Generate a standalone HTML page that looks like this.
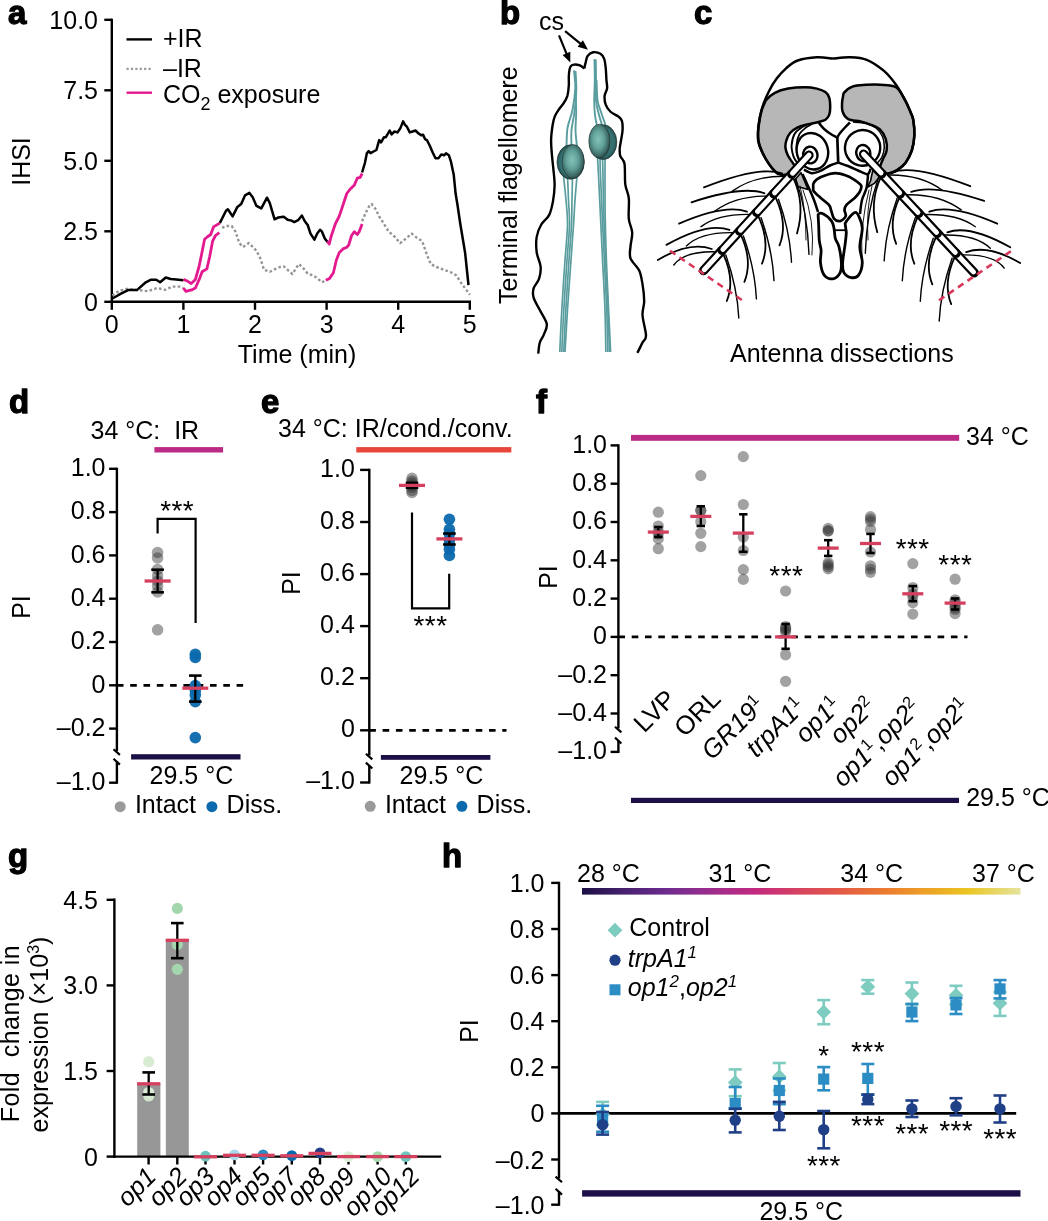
<!DOCTYPE html>
<html><head><meta charset="utf-8"><style>
html,body{margin:0;padding:0;background:#fff;}
svg{display:block;will-change:transform;}
text{font-family:"Liberation Sans",sans-serif;fill:#000;}
</style></head><body>
<svg width="1048" height="1221" viewBox="0 0 1048 1221">
<rect width="1048" height="1221" fill="#fff"/>
<text x="8" y="24" font-size="33" font-weight="bold" stroke="#000" stroke-width="1.3" stroke-linejoin="round">a</text>
<line x1="111.8" y1="18.8" x2="111.8" y2="303.0" stroke="#000" stroke-width="2.4" />
<line x1="110.6" y1="301.8" x2="471.0" y2="301.8" stroke="#000" stroke-width="2.4" />
<line x1="104.3" y1="301.8" x2="111.8" y2="301.8" stroke="#000" stroke-width="2.4" />
<text x="98.0" y="310.8" font-size="25" text-anchor="end" >0</text>
<line x1="104.3" y1="231.3" x2="111.8" y2="231.3" stroke="#000" stroke-width="2.4" />
<text x="98.0" y="240.3" font-size="25" text-anchor="end" >2.5</text>
<line x1="104.3" y1="160.8" x2="111.8" y2="160.8" stroke="#000" stroke-width="2.4" />
<text x="98.0" y="169.8" font-size="25" text-anchor="end" >5.0</text>
<line x1="104.3" y1="90.3" x2="111.8" y2="90.3" stroke="#000" stroke-width="2.4" />
<text x="98.0" y="99.3" font-size="25" text-anchor="end" >7.5</text>
<line x1="104.3" y1="19.8" x2="111.8" y2="19.8" stroke="#000" stroke-width="2.4" />
<text x="98.0" y="28.8" font-size="25" text-anchor="end" >10.0</text>
<line x1="111.8" y1="301.8" x2="111.8" y2="309.8" stroke="#000" stroke-width="2.4" />
<text x="111.8" y="333.0" font-size="25" text-anchor="middle" >0</text>
<line x1="183.4" y1="301.8" x2="183.4" y2="309.8" stroke="#000" stroke-width="2.4" />
<text x="183.4" y="333.0" font-size="25" text-anchor="middle" >1</text>
<line x1="255.0" y1="301.8" x2="255.0" y2="309.8" stroke="#000" stroke-width="2.4" />
<text x="255.0" y="333.0" font-size="25" text-anchor="middle" >2</text>
<line x1="326.6" y1="301.8" x2="326.6" y2="309.8" stroke="#000" stroke-width="2.4" />
<text x="326.6" y="333.0" font-size="25" text-anchor="middle" >3</text>
<line x1="398.2" y1="301.8" x2="398.2" y2="309.8" stroke="#000" stroke-width="2.4" />
<text x="398.2" y="333.0" font-size="25" text-anchor="middle" >4</text>
<line x1="469.8" y1="301.8" x2="469.8" y2="309.8" stroke="#000" stroke-width="2.4" />
<text x="469.8" y="333.0" font-size="25" text-anchor="middle" >5</text>
<text x="297.0" y="363.0" font-size="25" text-anchor="middle" >Time (min)</text>
<text transform="translate(30,161.5) rotate(-90)" font-size="25" text-anchor="middle">IHSI</text>
<line x1="126.5" y1="39.4" x2="152.0" y2="39.4" stroke="#000" stroke-width="2.4" />
<text x="163.0" y="46.5" font-size="25" text-anchor="start" >+IR</text>
<line x1="126.5" y1="68.9" x2="152.0" y2="68.9" stroke="#999" stroke-width="2.4" stroke-dasharray="2.2 2.2"/>
<text x="163.0" y="76.5" font-size="25" text-anchor="start" >–IR</text>
<line x1="126.5" y1="92.7" x2="152.0" y2="92.7" stroke="#e2198f" stroke-width="2.4" />
<text x="163" y="102.6" font-size="25">CO<tspan font-size="18" dy="7.5">2</tspan><tspan dy="-7.5"> exposure</tspan></text>
<path d="M112.4,295.6 L119.1,290.8 L126.7,288.9 L136.3,289.9 L147.7,291.2 L157.3,288.0 L164.9,289.9 L172.5,286.6 L180.2,286.6 L183.4,288.0" stroke="#949494" stroke-width="2.4" fill="none" stroke-dasharray="2.6 2.3" stroke-linejoin="round"/>
<path d="M222.1,227.9 L226.0,226.0 L231.7,226.0 L235.5,231.7 L239.3,243.1 L243.1,246.9 L248.9,243.1 L256.5,250.8 L260.3,258.4 L264.1,269.8 L269.8,271.8 L275.6,268.9 L275.6,268.9 L280.0,267.0 L283.8,266.4 L287.6,269.8 L292.4,274.0 L296.2,267.9 L299.1,264.1 L303.9,268.9 L307.7,273.7 L312.4,275.2 L316.3,277.5 L322.0,282.3 L325.8,280.3" stroke="#949494" stroke-width="2.4" fill="none" stroke-dasharray="2.6 2.3" stroke-linejoin="round"/>
<path d="M362.1,221.2 L365.9,212.6 L369.7,205.0 L371.6,204.0 L375.4,208.8 L379.2,216.4 L384.0,224.0 L388.8,231.7 L394.5,236.5 L400.2,243.1 L406.0,238.4 L411.7,233.6 L416.5,237.4 L422.2,241.2 L426.9,254.6 L430.8,264.1 L436.5,267.0 L444.1,269.8 L451.8,272.7 L456.5,275.6 L461.3,283.2 L469.9,294.7" stroke="#949494" stroke-width="2.4" fill="none" stroke-dasharray="2.6 2.3" stroke-linejoin="round"/>
<path d="M112.4,298.5 L121.0,293.7 L128.6,289.9 L137.2,289.9 L145.8,282.3 L150.6,279.8 L156.3,279.8 L160.1,282.3 L165.8,277.5 L170.6,279.0 L176.3,279.4 L183.4,280.3" stroke="#000" stroke-width="2.5" fill="none" stroke-linejoin="round"/>
<path d="M219.8,223.1 L226.0,210.7 L227.9,209.2 L232.6,216.4 L237.4,206.9 L241.2,204.0 L245.0,195.4 L249.4,192.9 L252.7,197.3 L256.5,205.9 L261.3,208.4 L267.0,197.7 L269.8,203.1 L274.6,219.3 L278.4,217.4 L283.2,216.8 L283.8,216.8 L287.6,219.8 L291.5,220.6 L294.3,222.1 L298.1,220.2 L301.9,215.5 L304.8,221.2 L307.7,225.0 L310.5,233.6 L314.4,239.7 L317.2,233.6 L320.1,229.8 L322.0,231.7 L324.8,238.4 L327.7,242.2" stroke="#000" stroke-width="2.5" fill="none" stroke-linejoin="round"/>
<path d="M362.1,172.5 L364.9,163.0 L366.8,153.4 L368.7,151.1 L370.6,153.1 L373.5,151.5 L376.4,150.0 L379.2,140.1 L381.1,142.4 L384.0,137.2 L385.9,137.2 L389.7,130.5 L391.6,134.4 L394.5,131.5 L397.4,132.4 L400.2,128.6 L403.1,121.4 L405.0,124.8 L406.9,126.7 L409.8,132.4 L412.6,131.5 L415.5,130.5 L418.4,133.4 L421.2,135.3 L423.1,134.7 L425.0,139.1 L426.9,140.1 L429.8,145.8 L432.7,152.5 L435.5,158.2 L438.4,158.2 L441.3,154.4 L444.1,155.3 L446.0,153.4 L448.9,155.3 L450.8,161.1 L453.7,174.4 L455.6,193.5 L457.5,205.0 L460.3,224.0 L463.2,241.2 L465.1,252.7 L468.5,285.1" stroke="#000" stroke-width="2.5" fill="none" stroke-linejoin="round"/>
<path d="M183.4,279.4 L187.8,281.3 L191.2,283.6 L195.4,279.4 L199.2,266.0 L204.6,239.3 L207.8,236.5 L210.7,234.5 L213.5,226.9 L219.8,223.1" stroke="#e2198f" stroke-width="2.8" fill="none" stroke-linejoin="round"/>
<path d="M183.4,288.0 L185.9,291.4 L191.6,289.9 L195.4,288.0 L199.2,279.4 L202.1,271.8 L206.9,268.9 L209.7,256.5 L212.6,241.2 L215.5,235.5 L219.3,232.6" stroke="#e2198f" stroke-width="2.8" fill="none" stroke-linejoin="round"/>
<path d="M327.3,241.2 L329.2,244.1 L331.1,236.5 L335.3,224.0 L339.2,216.4 L343.0,205.0 L346.8,193.5 L350.6,188.7 L354.4,184.9 L357.3,178.2 L360.2,177.3 L362.1,173.5" stroke="#e2198f" stroke-width="2.8" fill="none" stroke-linejoin="round"/>
<path d="M325.8,280.3 L329.6,278.4 L333.4,272.7 L336.3,260.3 L339.2,252.7 L343.0,248.9 L346.8,247.3 L348.7,245.0 L351.6,235.5 L354.4,231.7 L357.3,234.5 L359.2,231.7 L362.1,224.0" stroke="#e2198f" stroke-width="2.8" fill="none" stroke-linejoin="round"/>
<text x="500" y="24" font-size="33" font-weight="bold" stroke="#000" stroke-width="1.3" stroke-linejoin="round">b</text>
<text x="539.0" y="29.5" font-size="25" text-anchor="start" >cs</text>
<line x1="559.0" y1="35.4" x2="566.8" y2="54.3" stroke="#000" stroke-width="2.2" />
<path d="M570.3,62.6 L562.6,55.0 L570.3,51.8Z" fill="#000"/>
<line x1="565.1" y1="31.2" x2="581.0" y2="44.1" stroke="#000" stroke-width="2.2" />
<path d="M588.0,49.8 L577.6,46.8 L582.9,40.2Z" fill="#000"/>
<text transform="translate(517.2,304) rotate(-90)" font-size="25">Terminal flagellomere</text>
<path d="M538.2,353.6 C538.5,351.8 538.9,345.8 539.8,342.7 C540.7,339.6 542.5,338.0 543.7,334.9 C544.9,331.8 547.4,328.1 546.8,324.0 C546.1,319.9 542.0,314.4 539.8,310.0 C537.6,305.6 534.6,301.2 533.6,297.6 C532.6,294.0 532.7,291.4 533.6,288.3 C534.5,285.2 537.8,282.5 539.0,278.9 C540.2,275.3 541.0,270.9 540.6,266.5 C540.2,262.1 537.4,257.4 536.7,252.5 C536.1,247.6 535.9,241.6 536.7,236.9 C537.5,232.2 539.2,228.1 541.3,224.5 C543.4,220.9 547.1,219.0 549.1,215.1 C551.1,211.2 552.1,206.0 553.0,201.1 C553.9,196.2 554.5,190.9 554.6,185.6 C554.7,180.3 553.9,174.6 553.4,169.4 C552.9,164.2 552.3,159.6 551.9,154.7 C551.5,149.8 551.0,144.9 551.1,140.0 C551.2,135.1 552.0,129.1 552.6,125.2 C553.2,121.3 553.7,119.1 554.8,116.4 C555.9,113.7 557.7,111.2 559.2,109.0 C560.7,106.8 562.3,105.3 563.7,103.1 C565.1,100.9 566.5,98.7 567.4,95.8 C568.2,92.9 568.6,88.7 568.8,85.5 C569.0,82.3 568.7,79.3 568.8,76.6 C568.9,73.9 569.2,71.0 569.6,69.2 C570.0,67.4 570.3,66.8 571.0,66.0 C571.7,65.2 572.5,64.7 574.0,64.6 C575.5,64.5 578.2,64.8 579.9,65.4 C581.6,66.1 583.6,68.0 584.3,68.5" stroke="#000" stroke-width="2.4" fill="none" stroke-linejoin="round"/>
<path d="M584.3,68.5 C584.5,67.4 585.2,64.0 585.8,61.9 C586.3,59.8 586.4,57.6 587.6,56.0 C588.8,54.4 591.0,52.7 593.1,52.3 C595.2,51.9 598.6,52.7 600.5,53.8 C602.4,54.9 603.3,56.6 604.2,58.9 C605.1,61.2 605.3,64.3 605.7,67.8 C606.1,71.2 606.2,76.2 606.4,79.6 C606.6,83.0 607.4,85.7 607.1,88.4 C606.8,91.1 604.8,93.1 604.6,95.8 C604.4,98.5 604.7,101.9 605.7,104.6 C606.7,107.3 608.7,110.0 610.8,112.0 C612.9,114.0 616.4,114.9 618.2,116.4 C620.1,117.9 621.2,118.6 621.9,120.8 C622.6,123.0 622.7,126.5 622.6,129.7 C622.5,132.9 621.6,136.8 621.1,140.0 C620.6,143.2 619.8,146.1 619.7,148.8 C619.6,151.5 619.5,153.7 620.3,156.2 C621.1,158.7 623.7,159.1 624.5,163.8 C625.3,168.5 624.6,178.7 625.3,184.4 C626.0,190.1 628.2,192.4 628.8,198.1 C629.4,203.8 628.2,213.1 628.8,218.8 C629.4,224.5 631.9,227.9 632.2,232.5 C632.5,237.1 630.8,242.0 630.5,246.3 C630.2,250.6 629.1,254.3 630.5,258.3 C631.9,262.3 637.1,266.0 639.1,270.3 C641.1,274.6 641.6,278.9 642.5,284.1 C643.4,289.3 644.2,296.2 644.2,301.3 C644.2,306.4 642.2,309.3 642.5,315.0 C642.8,320.7 646.0,331.1 646.0,335.7 C646.0,340.3 643.9,339.6 642.5,342.5 C641.1,345.4 638.2,351.2 637.4,352.9" stroke="#000" stroke-width="2.4" fill="none" stroke-linejoin="round"/>
<path d="M574.0,70.4 C574.2,73.3 575.5,81.4 575.3,88.0 C575.0,94.6 573.8,103.3 572.5,110.0 C571.2,116.7 568.5,121.8 567.5,128.0 C566.5,134.2 566.7,143.8 566.5,147.0" stroke="#5a9d9f" stroke-width="1.9" fill="none" stroke-linecap="butt"/>
<path d="M575.5,71.0 C575.6,74.2 576.5,83.2 576.3,90.0 C576.1,96.8 575.3,105.3 574.5,112.0 C573.7,118.7 572.0,124.2 571.5,130.0 C571.0,135.8 571.5,144.2 571.5,147.0" stroke="#5a9d9f" stroke-width="1.9" fill="none" stroke-linecap="butt"/>
<path d="M575.6,90.0 C575.7,93.7 576.2,105.3 576.2,112.0 C576.2,118.7 575.4,124.2 575.5,130.0 C575.6,135.8 576.8,144.2 577.0,147.0" stroke="#5a9d9f" stroke-width="1.9" fill="none" stroke-linecap="butt"/>
<path d="M563.5,176.0 C563.9,180.0 565.3,191.8 566.0,200.0 C566.7,208.2 567.7,215.0 567.5,225.0 C567.3,235.0 566.0,245.8 565.0,260.0 C564.0,274.2 562.7,294.7 561.8,310.0 C560.9,325.3 560.1,345.0 559.8,352.0" stroke="#5a9d9f" stroke-width="1.7" fill="none" stroke-linecap="butt"/>
<path d="M567.5,176.0 C567.7,180.0 568.2,191.8 568.5,200.0 C568.8,208.2 569.8,215.0 569.5,225.0 C569.2,235.0 568.0,245.8 567.0,260.0 C566.0,274.2 564.7,294.7 563.8,310.0 C562.9,325.3 562.1,345.0 561.8,352.0" stroke="#5a9d9f" stroke-width="1.7" fill="none" stroke-linecap="butt"/>
<path d="M572.5,176.0 C572.4,180.0 572.2,191.8 572.0,200.0 C571.8,208.2 572.0,215.0 571.5,225.0 C571.0,235.0 570.0,245.8 569.0,260.0 C568.0,274.2 566.7,294.7 565.8,310.0 C564.9,325.3 564.1,345.0 563.8,352.0" stroke="#5a9d9f" stroke-width="1.7" fill="none" stroke-linecap="butt"/>
<path d="M577.0,176.0 C576.7,180.0 575.6,191.8 575.0,200.0 C574.4,208.2 574.2,215.0 573.5,225.0 C572.8,235.0 572.0,245.8 571.0,260.0 C570.0,274.2 568.5,294.7 567.5,310.0 C566.5,325.3 565.4,345.0 565.0,352.0" stroke="#5a9d9f" stroke-width="1.7" fill="none" stroke-linecap="butt"/>
<path d="M594.5,59.0 C594.5,62.5 594.8,73.2 594.8,80.0 C594.8,86.8 594.2,94.2 594.2,100.0 C594.2,105.8 594.5,110.7 595.0,115.0 C595.5,119.3 596.7,124.2 597.0,126.0" stroke="#5a9d9f" stroke-width="1.9" fill="none" stroke-linecap="butt"/>
<path d="M595.8,59.5 C595.8,62.9 596.0,73.2 596.0,80.0 C596.0,86.8 595.6,94.5 596.0,100.0 C596.4,105.5 597.5,108.8 598.5,113.0 C599.5,117.2 601.4,123.0 602.0,125.0" stroke="#5a9d9f" stroke-width="1.9" fill="none" stroke-linecap="butt"/>
<path d="M596.5,80.0 C596.7,83.3 596.8,94.7 597.5,100.0 C598.2,105.3 599.7,107.8 601.0,112.0 C602.3,116.2 604.8,122.8 605.5,125.0" stroke="#5a9d9f" stroke-width="1.9" fill="none" stroke-linecap="butt"/>
<path d="M597.5,158.0 C597.7,160.8 598.0,165.2 598.5,175.0 C599.0,184.8 599.8,202.3 600.5,217.0 C601.2,231.7 602.0,247.5 602.7,263.0 C603.5,278.5 604.5,295.2 605.0,310.0 C605.5,324.8 605.7,345.0 605.8,352.0" stroke="#5a9d9f" stroke-width="1.7" fill="none" stroke-linecap="butt"/>
<path d="M600.0,158.0 C600.1,160.8 600.1,165.2 600.5,175.0 C600.9,184.8 601.6,202.3 602.3,217.0 C603.0,231.7 603.8,247.5 604.5,263.0 C605.2,278.5 606.2,295.2 606.8,310.0 C607.3,324.8 607.6,345.0 607.8,352.0" stroke="#5a9d9f" stroke-width="1.7" fill="none" stroke-linecap="butt"/>
<path d="M602.5,158.0 C602.6,160.8 602.8,165.2 603.0,175.0 C603.2,184.8 603.3,202.3 603.8,217.0 C604.3,231.7 605.1,247.5 605.8,263.0 C606.5,278.5 607.4,295.2 608.0,310.0 C608.6,324.8 609.2,345.0 609.5,352.0" stroke="#5a9d9f" stroke-width="1.7" fill="none" stroke-linecap="butt"/>
<path d="M605.0,158.0 C605.0,160.8 605.0,165.2 605.0,175.0 C605.0,184.8 605.0,202.3 605.2,217.0 C605.5,231.7 605.9,247.5 606.5,263.0 C607.1,278.5 607.9,295.2 608.6,310.0 C609.3,324.8 610.3,345.0 610.6,352.0" stroke="#5a9d9f" stroke-width="1.7" fill="none" stroke-linecap="butt"/>
<defs>
<radialGradient id="sph" cx="0.45" cy="0.45" r="0.6">
<stop offset="0" stop-color="#82c2b8"/><stop offset="0.45" stop-color="#62a29a"/><stop offset="0.8" stop-color="#3c6864"/><stop offset="1" stop-color="#1f302e"/></radialGradient>
<radialGradient id="sphb" cx="0.5" cy="0.5" r="0.55">
<stop offset="0" stop-color="#3f8282"/><stop offset="0.75" stop-color="#336c6c"/><stop offset="1" stop-color="#1c3434"/></radialGradient>
</defs>
<ellipse cx="570.6" cy="162" rx="13.6" ry="17.2" fill="url(#sphb)" stroke="#1f3333" stroke-width="0.7"/>
<ellipse cx="573.2" cy="161.6" rx="11" ry="17" fill="url(#sph)" stroke="#243836" stroke-width="0.6"/>
<ellipse cx="603.2" cy="142.2" rx="13.6" ry="17.4" fill="url(#sphb)" stroke="#1f3333" stroke-width="0.7"/>
<ellipse cx="599.4" cy="141.2" rx="10.6" ry="17" fill="url(#sph)" stroke="#243836" stroke-width="0.6"/>
<text x="694" y="24" font-size="33" font-weight="bold" stroke="#000" stroke-width="1.3" stroke-linejoin="round">c</text>
<text x="730.0" y="362.0" font-size="25" text-anchor="start" >Antenna dissections</text>
<path d="M765.7,100.6 C767.9,97.8 771.0,94.9 774.8,92.9 C778.5,90.9 783.1,89.5 788.2,88.6 C793.3,87.6 800.5,87.2 805.3,87.2 C810.1,87.2 813.4,87.8 816.8,88.6 C820.1,89.4 823.3,90.5 825.4,92.0 C827.5,93.5 828.4,95.2 829.2,97.7 C830.0,100.2 830.2,104.4 830.2,107.3 C830.2,110.2 830.0,112.8 829.2,114.9 C828.4,117.0 827.1,118.5 825.4,119.7 C823.6,120.9 821.7,121.2 818.7,122.0 C815.7,122.8 810.8,123.5 807.3,124.4 C803.8,125.3 800.6,125.9 797.7,127.3 C794.8,128.7 792.0,130.8 790.1,133.0 C788.2,135.2 787.1,138.1 786.3,140.6 C785.5,143.1 785.2,145.6 785.5,148.0 C785.8,150.4 786.5,152.6 787.8,155.2 C789.1,157.8 791.8,161.5 793.2,163.6 C794.6,165.7 796.9,166.3 796.0,168.0 C795.1,169.7 790.6,172.9 788.0,174.0 C785.4,175.1 782.4,175.1 780.2,174.6 C778.0,174.1 776.7,173.0 774.8,171.2 C772.9,169.4 770.7,166.6 768.7,163.6 C766.7,160.6 764.3,156.6 762.6,152.9 C760.9,149.2 759.3,145.9 758.6,141.5 C757.9,137.1 757.9,131.6 758.4,126.3 C758.9,121.0 760.3,114.3 761.5,110.0Z" stroke="#000" stroke-width="2.5" fill="#b7b7b7" stroke-linejoin="round"/>
<path d="M843.6,93.2 C845.4,90.8 849.3,87.8 853.0,86.4 C856.7,85.0 861.4,85.1 866.0,84.8 C870.6,84.5 875.5,84.3 880.5,84.7 C885.5,85.1 891.9,84.7 896.0,87.2 C900.1,89.8 902.6,95.9 905.0,100.0 C907.4,104.1 909.1,108.7 910.5,112.0 C911.9,115.3 912.6,116.1 913.3,120.0 C913.9,123.9 914.6,130.2 914.4,135.3 C914.1,140.4 913.3,145.9 911.8,150.5 C910.3,155.1 907.9,159.5 905.6,162.7 C903.3,165.9 900.3,168.0 898.0,169.6 C895.7,171.2 894.3,171.9 892.0,172.5 C889.7,173.1 886.0,173.8 884.0,173.0 C882.0,172.2 880.2,170.2 880.0,168.0 C879.8,165.8 881.6,162.6 882.7,159.7 C883.8,156.8 886.1,153.9 886.6,150.5 C887.1,147.1 886.9,142.7 885.8,139.1 C884.6,135.5 882.2,131.6 879.7,129.2 C877.2,126.8 873.7,125.9 870.5,124.6 C867.3,123.3 864.2,122.3 860.5,121.4 C856.8,120.5 851.3,120.8 848.3,119.1 C845.3,117.4 843.6,114.5 842.6,111.5 C841.6,108.5 842.0,104.0 842.2,101.0Z" stroke="#000" stroke-width="2.5" fill="#b7b7b7" stroke-linejoin="round"/>
<path d="M833.0,58.6 C830.3,58.4 822.7,56.9 816.8,57.2 C810.9,57.5 802.8,58.7 797.7,60.5 C792.6,62.3 789.8,65.1 786.3,68.1 C782.8,71.1 779.6,74.8 776.7,78.6 C773.8,82.4 771.5,86.2 769.1,91.0 C766.7,95.8 764.1,101.4 762.4,107.3 C760.6,113.2 759.3,120.6 758.6,126.3 C757.9,132.0 757.6,137.1 758.3,141.5 C759.0,145.9 760.9,149.2 762.6,152.9 C764.3,156.6 766.7,160.6 768.7,163.6 C770.7,166.6 773.1,169.4 774.8,171.2 C776.5,173.0 778.3,173.9 779.0,174.5" stroke="#000" stroke-width="2.5" fill="none" />
<path d="M833.0,58.6 C835.8,58.4 844.0,57.0 849.6,57.2 C855.2,57.4 861.1,57.5 866.8,59.8 C872.5,62.1 879.1,66.8 884.0,70.9 C888.9,75.1 892.5,79.9 896.0,84.7 C899.5,89.5 902.6,95.5 905.0,100.0 C907.4,104.5 909.1,108.7 910.5,112.0 C911.9,115.3 912.6,116.1 913.3,120.0 C913.9,123.9 914.6,130.2 914.4,135.3 C914.1,140.4 913.3,145.9 911.8,150.5 C910.3,155.1 907.9,159.5 905.6,162.7 C903.3,165.9 900.6,167.8 898.0,169.6 C895.4,171.4 891.3,172.8 890.0,173.5" stroke="#000" stroke-width="2.5" fill="none" />
<path d="M807.3,124.4 C806.2,125.0 802.7,126.6 800.6,128.2 C798.5,129.8 796.0,131.2 794.5,134.0 C793.0,136.8 791.9,142.1 791.6,145.3 C791.3,148.5 792.0,150.7 792.5,153.0 C793.0,155.3 793.6,157.0 794.7,159.0 C795.8,161.0 798.3,164.0 799.0,165.0" stroke="#000" stroke-width="1.9" fill="none" />
<path d="M812.0,124.0 C811.0,124.6 808.1,125.8 806.0,127.5 C803.9,129.2 801.1,131.1 799.5,134.0 C797.9,136.9 796.8,141.5 796.5,145.0 C796.2,148.5 796.8,152.2 797.5,155.0 C798.2,157.8 800.0,160.8 800.5,162.0" stroke="#000" stroke-width="1.7" fill="none" />
<path d="M853.0,122.0 C855.2,122.2 862.2,122.5 866.0,123.5 C869.8,124.5 873.2,125.8 876.0,128.0 C878.8,130.2 881.1,133.3 882.5,136.5 C883.9,139.7 884.4,143.6 884.3,147.0 C884.2,150.4 883.3,154.2 882.0,157.0 C880.7,159.8 877.4,162.8 876.5,164.0" stroke="#000" stroke-width="1.5" fill="none" />
<path d="M818.7,122.3 C819.1,122.8 820.0,124.3 821.0,125.5 C822.0,126.7 822.9,127.9 824.4,129.2 C825.9,130.5 828.0,132.2 830.0,133.5 C832.0,134.8 835.4,136.6 836.5,137.2" stroke="#000" stroke-width="2.5" fill="none" />
<path d="M850.0,122.5 C849.2,123.3 846.6,125.8 845.0,127.5 C843.4,129.2 841.8,130.9 840.5,132.5 C839.2,134.1 838.0,136.2 837.5,137.0" stroke="#000" stroke-width="2.5" fill="none" />
<path d="M837.3,137 L838.2,162.6" stroke="#000" stroke-width="2.7" fill="none" />
<path d="M838.2,162.6 C836.8,163.1 833.0,164.1 830.0,165.5 C827.0,166.9 822.9,169.9 819.9,171.2 C816.9,172.5 814.7,173.4 812.0,173.2 C809.3,172.9 805.2,170.3 803.9,169.7" stroke="#000" stroke-width="2.5" fill="none" />
<path d="M838.2,162.6 C839.8,163.2 844.7,164.7 848.0,166.0 C851.3,167.3 854.9,169.1 858.0,170.5 C861.1,171.9 864.8,173.9 866.7,174.2 C868.6,174.5 868.6,173.4 869.2,172.5 C869.8,171.6 870.3,169.5 870.5,168.9" stroke="#000" stroke-width="2.5" fill="none" />
<ellipse cx="812.4" cy="151.2" rx="15.6" ry="18.4" transform="rotate(-15 812.4 151.2)" fill="#fff" stroke="#000" stroke-width="2.4"/>
<ellipse cx="862.6" cy="147.9" rx="17.6" ry="17.9" transform="rotate(15 862.6 147.9)" fill="#fff" stroke="#000" stroke-width="2.4"/>
<ellipse cx="810.3" cy="155" rx="7.2" ry="8.4" transform="rotate(-10 810.3 155)" fill="#fff" stroke="#000" stroke-width="2.4"/>
<ellipse cx="863.3" cy="153.1" rx="7" ry="8.2" transform="rotate(-15 863.3 153.1)" fill="#fff" stroke="#000" stroke-width="2.4"/>
<path d="M813.2,184.2 C813.8,182.3 814.8,180.8 816.8,179.3 C818.8,177.9 821.9,176.5 825.0,175.5 C828.1,174.5 831.8,173.2 835.3,173.2 C838.8,173.2 842.9,174.5 846.0,175.5 C849.1,176.5 851.2,177.7 853.7,179.3 C856.2,181.0 860.1,183.4 861.1,185.4 C862.1,187.4 860.8,189.6 859.8,191.6 C858.8,193.6 857.1,195.4 854.9,197.7 C852.6,199.9 848.0,203.0 846.3,205.1 C844.6,207.2 844.6,208.2 844.5,210.0 C844.4,211.8 846.4,214.2 845.7,216.1 C845.0,217.9 842.2,220.7 840.2,221.1 C838.2,221.5 835.5,220.4 834.0,218.6 C832.5,216.8 831.8,212.2 831.0,210.0 C830.2,207.8 830.9,207.2 829.1,205.1 C827.4,203.0 823.1,200.1 820.5,197.7 C817.9,195.2 814.4,192.7 813.2,190.4Z" stroke="#000" stroke-width="2.7" fill="#fff" />
<path d="M802.5,174.0 C803.4,176.0 806.1,181.7 808.0,186.0 C809.9,190.3 812.3,195.7 814.0,200.0 C815.7,204.3 817.3,210.0 818.0,212.0" stroke="#000" stroke-width="2.5" fill="none" />
<path d="M868.0,175.0 C867.8,177.2 867.5,183.8 866.5,188.0 C865.5,192.2 863.1,195.7 862.0,200.0 C860.9,204.3 860.3,211.7 860.0,214.0" stroke="#000" stroke-width="2.5" fill="none" />
<path d="M818.1,214.9 C818.8,212.8 820.8,212.7 823.0,213.7 C825.2,214.7 829.8,218.6 831.6,221.1 C833.4,223.6 833.4,225.5 834.0,228.4 C834.6,231.3 834.5,235.2 835.3,238.3 C836.1,241.4 838.0,242.8 839.0,246.9 C840.0,251.0 841.2,258.5 841.4,262.8 C841.6,267.1 841.6,269.9 840.2,272.6 C838.8,275.3 835.5,278.4 832.8,278.8 C830.1,279.2 826.2,277.8 824.2,275.1 C822.2,272.4 821.0,266.9 820.5,262.8 C820.0,258.7 821.3,254.2 821.1,250.5 C820.9,246.8 819.7,244.8 819.3,240.7 C818.9,236.6 818.9,230.3 818.7,226.0Z" stroke="#000" stroke-width="2.8" fill="#fff" />
<path d="M845.1,223.5 C846.5,220.2 852.5,213.3 854.9,212.5 C857.3,211.7 858.6,215.9 859.8,218.6 C861.0,221.2 862.3,223.7 862.3,228.4 C862.3,233.1 859.8,241.2 859.8,246.9 C859.8,252.6 862.5,258.1 862.3,262.8 C862.1,267.5 860.5,272.6 858.6,275.1 C856.8,277.6 853.7,278.0 851.2,277.6 C848.8,277.2 845.3,275.1 843.9,272.6 C842.5,270.1 842.4,267.5 842.6,262.8 C842.8,258.1 844.5,249.5 845.1,244.4 C845.7,239.3 846.3,235.6 846.3,232.1Z" stroke="#000" stroke-width="2.8" fill="#fff" />
<line x1="835.0" y1="230.2" x2="845.0" y2="230.2" stroke="#000" stroke-width="1.8" />
<path d="M795.5,179 L801,172.7 L808,189.5 L797.5,186.5 Z" fill="#b7b7b7" stroke="#000" stroke-width="1.6" stroke-linejoin="round"/>
<path d="M872.8,170.4 L879.7,176.5 L874.4,183.4 L867.5,187.2 L870.5,181 Z" fill="#b7b7b7" stroke="#000" stroke-width="1.6" stroke-linejoin="round"/>
<path d="M782.0,173.4 Q760.0,165.4 704.0,187.4" stroke="#000" stroke-width="1.8" fill="none" stroke-linecap="round"/>
<path d="M791.0,176.4 Q755.0,174.4 732.0,191.4" stroke="#000" stroke-width="1.4" fill="none" stroke-linecap="round"/>
<path d="M793.5,178.4 Q805.5,204.4 797.0,233.4" stroke="#000" stroke-width="1.8" fill="none" stroke-linecap="round"/>
<path d="M796.0,179.4 Q807.5,211.9 809.0,254.4" stroke="#000" stroke-width="1.4" fill="none" stroke-linecap="round"/>
<path d="M764.5,193.3 Q742.5,185.3 691.5,202.3" stroke="#000" stroke-width="1.8" fill="none" stroke-linecap="round"/>
<path d="M773.5,196.3 Q737.5,194.3 714.5,211.3" stroke="#000" stroke-width="1.4" fill="none" stroke-linecap="round"/>
<path d="M776.0,198.3 Q788.0,224.3 779.5,245.3" stroke="#000" stroke-width="1.8" fill="none" stroke-linecap="round"/>
<path d="M778.5,199.3 Q790.0,231.8 791.5,262.3" stroke="#000" stroke-width="1.4" fill="none" stroke-linecap="round"/>
<path d="M747.0,211.6 Q725.0,203.6 679.0,223.6" stroke="#000" stroke-width="1.8" fill="none" stroke-linecap="round"/>
<path d="M756.0,214.6 Q720.0,212.6 701.0,226.6" stroke="#000" stroke-width="1.4" fill="none" stroke-linecap="round"/>
<path d="M758.5,216.6 Q770.5,242.6 762.0,263.6" stroke="#000" stroke-width="1.8" fill="none" stroke-linecap="round"/>
<path d="M761.0,217.6 Q772.5,250.1 774.0,280.6" stroke="#000" stroke-width="1.4" fill="none" stroke-linecap="round"/>
<path d="M729.4,229.9 Q707.4,221.9 666.4,244.9" stroke="#000" stroke-width="1.8" fill="none" stroke-linecap="round"/>
<path d="M738.4,232.9 Q702.4,230.9 686.4,245.9" stroke="#000" stroke-width="1.4" fill="none" stroke-linecap="round"/>
<path d="M740.9,234.9 Q752.9,260.9 744.4,281.9" stroke="#000" stroke-width="1.8" fill="none" stroke-linecap="round"/>
<path d="M743.4,235.9 Q754.9,268.4 756.4,298.9" stroke="#000" stroke-width="1.4" fill="none" stroke-linecap="round"/>
<path d="M711.8,249.0 Q689.8,241.0 657.8,260.0" stroke="#000" stroke-width="1.8" fill="none" stroke-linecap="round"/>
<path d="M720.8,252.0 Q684.8,250.0 673.8,265.0" stroke="#000" stroke-width="1.4" fill="none" stroke-linecap="round"/>
<path d="M723.3,254.0 Q735.3,280.0 726.8,301.0" stroke="#000" stroke-width="1.8" fill="none" stroke-linecap="round"/>
<path d="M725.8,255.0 Q737.3,287.5 738.8,318.0" stroke="#000" stroke-width="1.4" fill="none" stroke-linecap="round"/>
<path d="M892.3,172.2 Q914.3,164.2 970.3,186.2" stroke="#000" stroke-width="1.8" fill="none" stroke-linecap="round"/>
<path d="M883.3,175.2 Q919.3,173.2 942.3,190.2" stroke="#000" stroke-width="1.4" fill="none" stroke-linecap="round"/>
<path d="M880.8,177.2 Q868.8,203.2 877.3,232.2" stroke="#000" stroke-width="1.8" fill="none" stroke-linecap="round"/>
<path d="M878.3,178.2 Q866.8,210.7 865.3,253.2" stroke="#000" stroke-width="1.4" fill="none" stroke-linecap="round"/>
<path d="M911.2,191.9 Q933.2,183.9 984.2,200.9" stroke="#000" stroke-width="1.8" fill="none" stroke-linecap="round"/>
<path d="M902.2,194.9 Q938.2,192.9 961.2,209.9" stroke="#000" stroke-width="1.4" fill="none" stroke-linecap="round"/>
<path d="M899.7,196.9 Q887.7,222.9 896.2,243.9" stroke="#000" stroke-width="1.8" fill="none" stroke-linecap="round"/>
<path d="M897.2,197.9 Q885.7,230.4 884.2,260.9" stroke="#000" stroke-width="1.4" fill="none" stroke-linecap="round"/>
<path d="M929.3,211.7 Q951.3,203.7 997.3,223.7" stroke="#000" stroke-width="1.8" fill="none" stroke-linecap="round"/>
<path d="M920.3,214.7 Q956.3,212.7 975.3,226.7" stroke="#000" stroke-width="1.4" fill="none" stroke-linecap="round"/>
<path d="M917.8,216.7 Q905.8,242.7 914.3,263.7" stroke="#000" stroke-width="1.8" fill="none" stroke-linecap="round"/>
<path d="M915.3,217.7 Q903.8,250.2 902.3,280.7" stroke="#000" stroke-width="1.4" fill="none" stroke-linecap="round"/>
<path d="M947.3,232.3 Q969.3,224.3 1010.3,247.3" stroke="#000" stroke-width="1.8" fill="none" stroke-linecap="round"/>
<path d="M938.3,235.3 Q974.3,233.3 990.3,248.3" stroke="#000" stroke-width="1.4" fill="none" stroke-linecap="round"/>
<path d="M935.8,237.3 Q923.8,263.3 932.3,284.3" stroke="#000" stroke-width="1.8" fill="none" stroke-linecap="round"/>
<path d="M933.3,238.3 Q921.8,270.8 920.3,301.3" stroke="#000" stroke-width="1.4" fill="none" stroke-linecap="round"/>
<path d="M966.2,252.1 Q988.2,244.1 1020.2,263.1" stroke="#000" stroke-width="1.8" fill="none" stroke-linecap="round"/>
<path d="M957.2,255.1 Q993.2,253.1 1004.2,268.1" stroke="#000" stroke-width="1.4" fill="none" stroke-linecap="round"/>
<path d="M954.7,257.1 Q942.7,283.1 951.2,304.1" stroke="#000" stroke-width="1.8" fill="none" stroke-linecap="round"/>
<path d="M952.2,258.1 Q940.7,290.6 939.2,321.1" stroke="#000" stroke-width="1.4" fill="none" stroke-linecap="round"/>
<path d="M800.0,186.0 Q806.0,210.0 806.0,240.0" stroke="#000" stroke-width="0.9" fill="none" stroke-linecap="round"/>
<path d="M803.0,190.0 Q815.0,220.0 812.0,255.0" stroke="#000" stroke-width="0.9" fill="none" stroke-linecap="round"/>
<path d="M872.0,186.0 Q866.0,210.0 868.0,240.0" stroke="#000" stroke-width="0.9" fill="none" stroke-linecap="round"/>
<path d="M869.0,190.0 Q860.0,225.0 862.0,258.0" stroke="#000" stroke-width="0.9" fill="none" stroke-linecap="round"/>
<line x1="722.1" y1="250.3" x2="703.5" y2="270.6" stroke="#000" stroke-width="9.4" stroke-linecap="round"/>
<line x1="721.3" y1="251.2" x2="704.3" y2="269.7" stroke="#fff" stroke-width="5" stroke-linecap="round"/>
<line x1="739.6" y1="231.1" x2="722.1" y2="250.3" stroke="#000" stroke-width="9.4" stroke-linecap="round"/>
<line x1="738.8" y1="232.0" x2="722.9" y2="249.4" stroke="#fff" stroke-width="5" stroke-linecap="round"/>
<line x1="756.7" y1="212.4" x2="739.6" y2="231.1" stroke="#000" stroke-width="9.4" stroke-linecap="round"/>
<line x1="755.9" y1="213.2" x2="740.4" y2="230.2" stroke="#fff" stroke-width="5" stroke-linecap="round"/>
<line x1="773.8" y1="193.7" x2="756.7" y2="212.4" stroke="#000" stroke-width="9.4" stroke-linecap="round"/>
<line x1="773.0" y1="194.6" x2="757.6" y2="211.5" stroke="#fff" stroke-width="5" stroke-linecap="round"/>
<line x1="791.7" y1="174.1" x2="773.8" y2="193.7" stroke="#000" stroke-width="9.4" stroke-linecap="round"/>
<line x1="790.9" y1="175.0" x2="774.6" y2="192.8" stroke="#fff" stroke-width="5" stroke-linecap="round"/>
<line x1="809.0" y1="155.2" x2="791.7" y2="174.1" stroke="#000" stroke-width="9.4" stroke-linecap="round"/>
<line x1="809.0" y1="155.2" x2="792.5" y2="173.2" stroke="#fff" stroke-width="5" stroke-linecap="round"/>
<line x1="956.0" y1="253.3" x2="974.2" y2="272.8" stroke="#000" stroke-width="9.4" stroke-linecap="round"/>
<line x1="956.8" y1="254.2" x2="973.4" y2="271.9" stroke="#fff" stroke-width="5" stroke-linecap="round"/>
<line x1="937.3" y1="233.3" x2="956.0" y2="253.3" stroke="#000" stroke-width="9.4" stroke-linecap="round"/>
<line x1="938.2" y1="234.1" x2="955.2" y2="252.4" stroke="#fff" stroke-width="5" stroke-linecap="round"/>
<line x1="918.7" y1="213.3" x2="937.3" y2="233.3" stroke="#000" stroke-width="9.4" stroke-linecap="round"/>
<line x1="919.5" y1="214.1" x2="936.5" y2="232.4" stroke="#fff" stroke-width="5" stroke-linecap="round"/>
<line x1="900.4" y1="193.7" x2="918.7" y2="213.3" stroke="#000" stroke-width="9.4" stroke-linecap="round"/>
<line x1="901.2" y1="194.5" x2="917.9" y2="212.4" stroke="#fff" stroke-width="5" stroke-linecap="round"/>
<line x1="881.8" y1="173.7" x2="900.4" y2="193.7" stroke="#000" stroke-width="9.4" stroke-linecap="round"/>
<line x1="882.6" y1="174.6" x2="899.6" y2="192.8" stroke="#fff" stroke-width="5" stroke-linecap="round"/>
<line x1="863.6" y1="154.2" x2="881.8" y2="173.7" stroke="#000" stroke-width="9.4" stroke-linecap="round"/>
<line x1="863.6" y1="154.2" x2="881.0" y2="172.8" stroke="#fff" stroke-width="5" stroke-linecap="round"/>
<line x1="670.0" y1="250.8" x2="742.4" y2="300.4" stroke="#d8375a" stroke-width="2.6" stroke-dasharray="6.5 5"/>
<line x1="939.0" y1="300.3" x2="1012.0" y2="250.5" stroke="#d8375a" stroke-width="2.6" stroke-dasharray="6.5 5"/>
<text x="9" y="413" font-size="33" font-weight="bold" stroke="#000" stroke-width="1.3" stroke-linejoin="round">d</text>
<text x="90.5" y="439.3" font-size="25" xml:space="preserve">34 °C:  IR</text>
<rect x="154.4" y="447.1" width="68.7" height="5.4" fill="#bb2b86"/>
<line x1="116.9" y1="467.7" x2="116.9" y2="751.0" stroke="#000" stroke-width="2.4" />
<line x1="116.9" y1="761.6" x2="116.9" y2="783.8" stroke="#000" stroke-width="2.4" />
<line x1="113.5" y1="749.2" x2="119.9" y2="754.9" stroke="#000" stroke-width="2.2" />
<line x1="113.5" y1="758.7" x2="119.9" y2="764.6" stroke="#000" stroke-width="2.2" />
<line x1="109.1" y1="468.8" x2="116.9" y2="468.8" stroke="#000" stroke-width="2.4" />
<text x="105.5" y="476.1" font-size="25" text-anchor="end" >1.0</text>
<line x1="109.1" y1="512.1" x2="116.9" y2="512.1" stroke="#000" stroke-width="2.4" />
<text x="105.5" y="519.4" font-size="25" text-anchor="end" >0.8</text>
<line x1="109.1" y1="555.4" x2="116.9" y2="555.4" stroke="#000" stroke-width="2.4" />
<text x="105.5" y="562.7" font-size="25" text-anchor="end" >0.6</text>
<line x1="109.1" y1="598.7" x2="116.9" y2="598.7" stroke="#000" stroke-width="2.4" />
<text x="105.5" y="606.0" font-size="25" text-anchor="end" >0.4</text>
<line x1="109.1" y1="642.0" x2="116.9" y2="642.0" stroke="#000" stroke-width="2.4" />
<text x="105.5" y="649.3" font-size="25" text-anchor="end" >0.2</text>
<line x1="109.1" y1="685.3" x2="116.9" y2="685.3" stroke="#000" stroke-width="2.4" />
<text x="105.5" y="692.6" font-size="25" text-anchor="end" >0</text>
<line x1="109.1" y1="728.6" x2="116.9" y2="728.6" stroke="#000" stroke-width="2.4" />
<text x="105.5" y="735.9" font-size="25" text-anchor="end" >–0.2</text>
<line x1="109.1" y1="782.7" x2="116.9" y2="782.7" stroke="#000" stroke-width="2.4" />
<text x="105.5" y="790.0" font-size="25" text-anchor="end" >–1.0</text>
<text transform="translate(30,607) rotate(-90)" font-size="25" text-anchor="middle">PI</text>
<line x1="116.9" y1="685.3" x2="243.1" y2="685.3" stroke="#000" stroke-width="2.7" stroke-dasharray="6.6 6.7"/>
<circle cx="157.6" cy="552.5" r="5.8" fill="#303030" fill-opacity="0.45"/>
<circle cx="157.6" cy="558.0" r="5.8" fill="#303030" fill-opacity="0.45"/>
<circle cx="157.6" cy="569.5" r="5.8" fill="#303030" fill-opacity="0.45"/>
<circle cx="157.6" cy="576.0" r="5.8" fill="#303030" fill-opacity="0.45"/>
<circle cx="157.6" cy="581.0" r="5.8" fill="#303030" fill-opacity="0.45"/>
<circle cx="157.6" cy="586.0" r="5.8" fill="#303030" fill-opacity="0.45"/>
<circle cx="157.6" cy="592.0" r="5.8" fill="#303030" fill-opacity="0.45"/>
<circle cx="157.6" cy="629.8" r="5.8" fill="#303030" fill-opacity="0.45"/>
<circle cx="195.3" cy="654.3" r="5.8" fill="#0b69ad" fill-opacity="0.95"/>
<circle cx="195.3" cy="657.5" r="5.8" fill="#0b69ad" fill-opacity="0.95"/>
<circle cx="195.3" cy="685.5" r="5.8" fill="#0b69ad" fill-opacity="0.95"/>
<circle cx="195.3" cy="690.5" r="5.8" fill="#0b69ad" fill-opacity="0.95"/>
<circle cx="195.3" cy="694.9" r="5.8" fill="#0b69ad" fill-opacity="0.95"/>
<circle cx="195.3" cy="701.6" r="5.8" fill="#0b69ad" fill-opacity="0.95"/>
<circle cx="195.3" cy="737.6" r="5.8" fill="#0b69ad" fill-opacity="0.95"/>
<line x1="157.6" y1="569.7" x2="157.6" y2="592.3" stroke="#000" stroke-width="2.3" />
<line x1="151.3" y1="569.7" x2="163.9" y2="569.7" stroke="#000" stroke-width="2.6" />
<line x1="151.3" y1="592.3" x2="163.9" y2="592.3" stroke="#000" stroke-width="2.6" />
<line x1="144.6" y1="581.0" x2="170.6" y2="581.0" stroke="#d6405f" stroke-width="3.3" />
<line x1="195.3" y1="675.6" x2="195.3" y2="701.6" stroke="#000" stroke-width="2.3" />
<line x1="189.0" y1="675.6" x2="201.6" y2="675.6" stroke="#000" stroke-width="2.6" />
<line x1="189.0" y1="701.6" x2="201.6" y2="701.6" stroke="#000" stroke-width="2.6" />
<line x1="182.3" y1="688.2" x2="208.3" y2="688.2" stroke="#d6405f" stroke-width="3.3" />
<path d="M157.6,533.6 L157.6,518.9 L195.6,518.9 L195.6,623.1" stroke="#000" stroke-width="2.2" fill="none" />
<text x="177.0" y="519.9" font-size="28" text-anchor="middle" textLength="33.5" lengthAdjust="spacing">***</text>
<rect x="131.1" y="754.2" width="109.4" height="5.3" fill="#1d1046"/>
<text x="149.6" y="784.0" font-size="25" text-anchor="start" >29.5 °C</text>
<circle cx="120.2" cy="806.7" r="5.5" fill="#9a9a9a" fill-opacity="1"/>
<text x="134.9" y="813.4" font-size="25" text-anchor="start" >Intact</text>
<circle cx="211.9" cy="806.7" r="5.5" fill="#0b69ad" fill-opacity="1"/>
<text x="226.6" y="813.4" font-size="25" text-anchor="start" >Diss.</text>
<text x="261" y="413.4" font-size="33" font-weight="bold" stroke="#000" stroke-width="1.3" stroke-linejoin="round">e</text>
<text x="278.0" y="437.4" font-size="25" text-anchor="start" >34 °C: IR/cond./conv.</text>
<rect x="356.3" y="447.1" width="155.0" height="5.4" fill="#e8463a"/>
<line x1="369.3" y1="468.8" x2="369.3" y2="755.5" stroke="#000" stroke-width="2.4" />
<line x1="369.3" y1="765.5" x2="369.3" y2="783.6" stroke="#000" stroke-width="2.4" />
<line x1="365.9" y1="753.7" x2="372.3" y2="759.4" stroke="#000" stroke-width="2.2" />
<line x1="365.9" y1="762.6" x2="372.3" y2="768.5" stroke="#000" stroke-width="2.2" />
<line x1="360.1" y1="469.9" x2="369.3" y2="469.9" stroke="#000" stroke-width="2.4" />
<text x="354.8" y="476.5" font-size="25" text-anchor="end" >1.0</text>
<line x1="360.1" y1="522.0" x2="369.3" y2="522.0" stroke="#000" stroke-width="2.4" />
<text x="354.8" y="528.6" font-size="25" text-anchor="end" >0.8</text>
<line x1="360.1" y1="574.1" x2="369.3" y2="574.1" stroke="#000" stroke-width="2.4" />
<text x="354.8" y="580.7" font-size="25" text-anchor="end" >0.6</text>
<line x1="360.1" y1="626.1" x2="369.3" y2="626.1" stroke="#000" stroke-width="2.4" />
<text x="354.8" y="632.7" font-size="25" text-anchor="end" >0.4</text>
<line x1="360.1" y1="678.2" x2="369.3" y2="678.2" stroke="#000" stroke-width="2.4" />
<text x="354.8" y="684.8" font-size="25" text-anchor="end" >0.2</text>
<line x1="360.1" y1="730.3" x2="369.3" y2="730.3" stroke="#000" stroke-width="2.4" />
<text x="354.8" y="736.9" font-size="25" text-anchor="end" >0</text>
<line x1="360.1" y1="782.5" x2="369.3" y2="782.5" stroke="#000" stroke-width="2.4" />
<text x="354.8" y="789.1" font-size="25" text-anchor="end" >–1.0</text>
<text transform="translate(299.5,583) rotate(-90)" font-size="25" text-anchor="middle">PI</text>
<line x1="369.3" y1="730.4" x2="506.5" y2="730.4" stroke="#000" stroke-width="2.7" stroke-dasharray="6.6 6.7"/>
<circle cx="412.0" cy="478.4" r="5.8" fill="#303030" fill-opacity="0.45"/>
<circle cx="412.0" cy="481.0" r="5.8" fill="#303030" fill-opacity="0.45"/>
<circle cx="412.0" cy="483.0" r="5.8" fill="#303030" fill-opacity="0.45"/>
<circle cx="412.0" cy="485.2" r="5.8" fill="#303030" fill-opacity="0.45"/>
<circle cx="412.0" cy="487.5" r="5.8" fill="#303030" fill-opacity="0.45"/>
<circle cx="412.0" cy="490.4" r="5.8" fill="#303030" fill-opacity="0.45"/>
<circle cx="412.0" cy="492.5" r="5.8" fill="#303030" fill-opacity="0.45"/>
<circle cx="449.4" cy="519.3" r="5.8" fill="#0b69ad" fill-opacity="0.95"/>
<circle cx="449.4" cy="529.3" r="5.8" fill="#0b69ad" fill-opacity="0.95"/>
<circle cx="449.4" cy="534.0" r="5.8" fill="#0b69ad" fill-opacity="0.95"/>
<circle cx="449.4" cy="539.8" r="5.8" fill="#0b69ad" fill-opacity="0.95"/>
<circle cx="449.4" cy="544.5" r="5.8" fill="#0b69ad" fill-opacity="0.95"/>
<circle cx="449.4" cy="549.2" r="5.8" fill="#0b69ad" fill-opacity="0.95"/>
<circle cx="449.4" cy="555.5" r="5.8" fill="#0b69ad" fill-opacity="0.95"/>
<line x1="412.0" y1="482.9" x2="412.0" y2="487.8" stroke="#000" stroke-width="2.3" />
<line x1="405.7" y1="482.9" x2="418.3" y2="482.9" stroke="#000" stroke-width="2.6" />
<line x1="405.7" y1="487.8" x2="418.3" y2="487.8" stroke="#000" stroke-width="2.6" />
<line x1="399.0" y1="485.4" x2="425.0" y2="485.4" stroke="#d6405f" stroke-width="3.3" />
<line x1="449.4" y1="533.5" x2="449.4" y2="544.5" stroke="#000" stroke-width="2.3" />
<line x1="443.1" y1="533.5" x2="455.7" y2="533.5" stroke="#000" stroke-width="2.6" />
<line x1="443.1" y1="544.5" x2="455.7" y2="544.5" stroke="#000" stroke-width="2.6" />
<line x1="436.4" y1="538.9" x2="462.4" y2="538.9" stroke="#d6405f" stroke-width="3.3" />
<path d="M412,512.4 L412,608.4 L449.2,608.4 L449.2,573.7" stroke="#000" stroke-width="2.2" fill="none" />
<text x="430.3" y="634.6" font-size="28" text-anchor="middle" textLength="33.5" lengthAdjust="spacing">***</text>
<rect x="380.9" y="755.0" width="109.5" height="4.8" fill="#1d1046"/>
<text x="399.6" y="784.3" font-size="25" text-anchor="start" >29.5 °C</text>
<circle cx="370.2" cy="806.3" r="5.5" fill="#9a9a9a" fill-opacity="1"/>
<text x="384.9" y="813.4" font-size="25" text-anchor="start" >Intact</text>
<circle cx="461.9" cy="806.3" r="5.5" fill="#0b69ad" fill-opacity="1"/>
<text x="476.6" y="813.4" font-size="25" text-anchor="start" >Diss.</text>
<text x="536" y="413" font-size="33" font-weight="bold" stroke="#000" stroke-width="1.3" stroke-linejoin="round">f</text>
<rect x="631.0" y="434.9" width="328.2" height="5.9" fill="#bb2b86"/>
<text x="966.0" y="445.1" font-size="25" text-anchor="start" >34 °C</text>
<line x1="618.4" y1="444.3" x2="618.4" y2="728.5" stroke="#000" stroke-width="2.4" />
<line x1="618.4" y1="740.5" x2="618.4" y2="753.0" stroke="#000" stroke-width="2.4" />
<line x1="615.0" y1="726.7" x2="621.4" y2="732.4" stroke="#000" stroke-width="2.2" />
<line x1="615.0" y1="737.6" x2="621.4" y2="743.5" stroke="#000" stroke-width="2.2" />
<line x1="610.6" y1="445.4" x2="618.4" y2="445.4" stroke="#000" stroke-width="2.4" />
<text x="607.0" y="452.8" font-size="25" text-anchor="end" >1.0</text>
<line x1="610.6" y1="483.7" x2="618.4" y2="483.7" stroke="#000" stroke-width="2.4" />
<text x="607.0" y="491.1" font-size="25" text-anchor="end" >0.8</text>
<line x1="610.6" y1="522.0" x2="618.4" y2="522.0" stroke="#000" stroke-width="2.4" />
<text x="607.0" y="529.4" font-size="25" text-anchor="end" >0.6</text>
<line x1="610.6" y1="560.3" x2="618.4" y2="560.3" stroke="#000" stroke-width="2.4" />
<text x="607.0" y="567.7" font-size="25" text-anchor="end" >0.4</text>
<line x1="610.6" y1="598.6" x2="618.4" y2="598.6" stroke="#000" stroke-width="2.4" />
<text x="607.0" y="606.0" font-size="25" text-anchor="end" >0.2</text>
<line x1="610.6" y1="636.9" x2="618.4" y2="636.9" stroke="#000" stroke-width="2.4" />
<text x="607.0" y="644.3" font-size="25" text-anchor="end" >0</text>
<line x1="610.6" y1="675.2" x2="618.4" y2="675.2" stroke="#000" stroke-width="2.4" />
<text x="607.0" y="682.6" font-size="25" text-anchor="end" >–0.2</text>
<line x1="610.6" y1="713.5" x2="618.4" y2="713.5" stroke="#000" stroke-width="2.4" />
<text x="607.0" y="720.9" font-size="25" text-anchor="end" >–0.4</text>
<line x1="610.6" y1="751.9" x2="618.4" y2="751.9" stroke="#000" stroke-width="2.4" />
<text x="607.0" y="759.3" font-size="25" text-anchor="end" >–1.0</text>
<text transform="translate(557,577) rotate(-90)" font-size="25" text-anchor="middle">PI</text>
<line x1="618.4" y1="636.9" x2="967.5" y2="636.9" stroke="#000" stroke-width="2.7" stroke-dasharray="6.6 6.7"/>
<circle cx="658.3" cy="512.2" r="5.6" fill="#303030" fill-opacity="0.45"/>
<circle cx="658.3" cy="526.0" r="5.6" fill="#303030" fill-opacity="0.45"/>
<circle cx="658.3" cy="531.5" r="5.6" fill="#303030" fill-opacity="0.45"/>
<circle cx="658.3" cy="534.0" r="5.6" fill="#303030" fill-opacity="0.45"/>
<circle cx="658.3" cy="538.9" r="5.6" fill="#303030" fill-opacity="0.45"/>
<circle cx="658.3" cy="548.7" r="5.6" fill="#303030" fill-opacity="0.45"/>
<circle cx="700.8" cy="475.6" r="5.6" fill="#303030" fill-opacity="0.45"/>
<circle cx="700.8" cy="510.3" r="5.6" fill="#303030" fill-opacity="0.45"/>
<circle cx="700.8" cy="510.8" r="5.6" fill="#303030" fill-opacity="0.45"/>
<circle cx="700.8" cy="521.7" r="5.6" fill="#303030" fill-opacity="0.45"/>
<circle cx="700.8" cy="533.3" r="5.6" fill="#303030" fill-opacity="0.45"/>
<circle cx="700.8" cy="546.6" r="5.6" fill="#303030" fill-opacity="0.45"/>
<circle cx="743.3" cy="456.6" r="5.6" fill="#303030" fill-opacity="0.45"/>
<circle cx="743.3" cy="504.5" r="5.6" fill="#303030" fill-opacity="0.45"/>
<circle cx="743.3" cy="537.0" r="5.6" fill="#303030" fill-opacity="0.45"/>
<circle cx="743.3" cy="550.5" r="5.6" fill="#303030" fill-opacity="0.45"/>
<circle cx="743.3" cy="569.6" r="5.6" fill="#303030" fill-opacity="0.45"/>
<circle cx="743.3" cy="579.4" r="5.6" fill="#303030" fill-opacity="0.45"/>
<circle cx="785.6" cy="591.0" r="5.6" fill="#303030" fill-opacity="0.45"/>
<circle cx="785.6" cy="626.5" r="5.6" fill="#303030" fill-opacity="0.45"/>
<circle cx="785.6" cy="628.5" r="5.6" fill="#303030" fill-opacity="0.45"/>
<circle cx="785.6" cy="630.0" r="5.6" fill="#303030" fill-opacity="0.45"/>
<circle cx="785.6" cy="632.0" r="5.6" fill="#303030" fill-opacity="0.45"/>
<circle cx="785.6" cy="654.8" r="5.6" fill="#303030" fill-opacity="0.45"/>
<circle cx="785.6" cy="681.3" r="5.6" fill="#303030" fill-opacity="0.45"/>
<circle cx="828.2" cy="528.4" r="5.6" fill="#303030" fill-opacity="0.45"/>
<circle cx="828.2" cy="530.7" r="5.6" fill="#303030" fill-opacity="0.45"/>
<circle cx="828.2" cy="531.1" r="5.6" fill="#303030" fill-opacity="0.45"/>
<circle cx="828.2" cy="562.7" r="5.6" fill="#303030" fill-opacity="0.45"/>
<circle cx="828.2" cy="564.7" r="5.6" fill="#303030" fill-opacity="0.45"/>
<circle cx="828.2" cy="566.9" r="5.6" fill="#303030" fill-opacity="0.45"/>
<circle cx="828.2" cy="568.9" r="5.6" fill="#303030" fill-opacity="0.45"/>
<circle cx="870.5" cy="516.6" r="5.6" fill="#303030" fill-opacity="0.45"/>
<circle cx="870.5" cy="519.0" r="5.6" fill="#303030" fill-opacity="0.45"/>
<circle cx="870.5" cy="521.5" r="5.6" fill="#303030" fill-opacity="0.45"/>
<circle cx="870.5" cy="529.5" r="5.6" fill="#303030" fill-opacity="0.45"/>
<circle cx="870.5" cy="552.0" r="5.6" fill="#303030" fill-opacity="0.45"/>
<circle cx="870.5" cy="565.8" r="5.6" fill="#303030" fill-opacity="0.45"/>
<circle cx="870.5" cy="569.0" r="5.6" fill="#303030" fill-opacity="0.45"/>
<circle cx="870.5" cy="572.3" r="5.6" fill="#303030" fill-opacity="0.45"/>
<circle cx="912.8" cy="563.6" r="5.6" fill="#303030" fill-opacity="0.45"/>
<circle cx="912.8" cy="587.5" r="5.6" fill="#303030" fill-opacity="0.45"/>
<circle cx="912.8" cy="594.0" r="5.6" fill="#303030" fill-opacity="0.45"/>
<circle cx="912.8" cy="597.1" r="5.6" fill="#303030" fill-opacity="0.45"/>
<circle cx="912.8" cy="602.6" r="5.6" fill="#303030" fill-opacity="0.45"/>
<circle cx="912.8" cy="614.1" r="5.6" fill="#303030" fill-opacity="0.45"/>
<circle cx="955.1" cy="579.2" r="5.6" fill="#303030" fill-opacity="0.45"/>
<circle cx="955.1" cy="599.8" r="5.6" fill="#303030" fill-opacity="0.45"/>
<circle cx="955.1" cy="602.0" r="5.6" fill="#303030" fill-opacity="0.45"/>
<circle cx="955.1" cy="605.3" r="5.6" fill="#303030" fill-opacity="0.45"/>
<circle cx="955.1" cy="607.5" r="5.6" fill="#303030" fill-opacity="0.45"/>
<circle cx="955.1" cy="609.5" r="5.6" fill="#303030" fill-opacity="0.45"/>
<circle cx="955.1" cy="613.6" r="5.6" fill="#303030" fill-opacity="0.45"/>
<line x1="658.3" y1="527.0" x2="658.3" y2="537.0" stroke="#000" stroke-width="2.3" />
<line x1="654.1" y1="527.0" x2="662.5" y2="527.0" stroke="#000" stroke-width="2.6" />
<line x1="654.1" y1="537.0" x2="662.5" y2="537.0" stroke="#000" stroke-width="2.6" />
<line x1="647.8" y1="532.1" x2="668.8" y2="532.1" stroke="#d6405f" stroke-width="3.3" />
<line x1="700.8" y1="506.3" x2="700.8" y2="526.0" stroke="#000" stroke-width="2.3" />
<line x1="696.6" y1="506.3" x2="705.0" y2="506.3" stroke="#000" stroke-width="2.6" />
<line x1="696.6" y1="526.0" x2="705.0" y2="526.0" stroke="#000" stroke-width="2.6" />
<line x1="690.3" y1="516.4" x2="711.3" y2="516.4" stroke="#d6405f" stroke-width="3.3" />
<line x1="743.3" y1="514.3" x2="743.3" y2="551.8" stroke="#000" stroke-width="2.3" />
<line x1="739.1" y1="514.3" x2="747.5" y2="514.3" stroke="#000" stroke-width="2.6" />
<line x1="739.1" y1="551.8" x2="747.5" y2="551.8" stroke="#000" stroke-width="2.6" />
<line x1="732.8" y1="533.1" x2="753.8" y2="533.1" stroke="#d6405f" stroke-width="3.3" />
<line x1="785.6" y1="624.0" x2="785.6" y2="648.8" stroke="#000" stroke-width="2.3" />
<line x1="781.4" y1="624.0" x2="789.8" y2="624.0" stroke="#000" stroke-width="2.6" />
<line x1="781.4" y1="648.8" x2="789.8" y2="648.8" stroke="#000" stroke-width="2.6" />
<line x1="775.1" y1="636.9" x2="796.1" y2="636.9" stroke="#d6405f" stroke-width="3.3" />
<line x1="828.2" y1="540.2" x2="828.2" y2="555.9" stroke="#000" stroke-width="2.3" />
<line x1="824.0" y1="540.2" x2="832.4" y2="540.2" stroke="#000" stroke-width="2.6" />
<line x1="824.0" y1="555.9" x2="832.4" y2="555.9" stroke="#000" stroke-width="2.6" />
<line x1="817.7" y1="548.1" x2="838.7" y2="548.1" stroke="#d6405f" stroke-width="3.3" />
<line x1="870.5" y1="533.9" x2="870.5" y2="553.0" stroke="#000" stroke-width="2.3" />
<line x1="866.3" y1="533.9" x2="874.7" y2="533.9" stroke="#000" stroke-width="2.6" />
<line x1="866.3" y1="553.0" x2="874.7" y2="553.0" stroke="#000" stroke-width="2.6" />
<line x1="860.0" y1="543.5" x2="881.0" y2="543.5" stroke="#d6405f" stroke-width="3.3" />
<line x1="912.8" y1="586.1" x2="912.8" y2="601.2" stroke="#000" stroke-width="2.3" />
<line x1="908.6" y1="586.1" x2="917.0" y2="586.1" stroke="#000" stroke-width="2.6" />
<line x1="908.6" y1="601.2" x2="917.0" y2="601.2" stroke="#000" stroke-width="2.6" />
<line x1="902.3" y1="593.8" x2="923.3" y2="593.8" stroke="#d6405f" stroke-width="3.3" />
<line x1="955.1" y1="598.5" x2="955.1" y2="609.5" stroke="#000" stroke-width="2.3" />
<line x1="950.9" y1="598.5" x2="959.3" y2="598.5" stroke="#000" stroke-width="2.6" />
<line x1="950.9" y1="609.5" x2="959.3" y2="609.5" stroke="#000" stroke-width="2.6" />
<line x1="944.6" y1="603.1" x2="965.6" y2="603.1" stroke="#d6405f" stroke-width="3.3" />
<text x="786.1" y="584.6" font-size="28" text-anchor="middle" textLength="33.5" lengthAdjust="spacing">***</text>
<text x="912.5" y="558.1" font-size="28" text-anchor="middle" textLength="33.5" lengthAdjust="spacing">***</text>
<text x="955.1" y="573.9" font-size="28" text-anchor="middle" textLength="33.5" lengthAdjust="spacing">***</text>
<rect x="631.0" y="797.8" width="328.0" height="5.2" fill="#1d1046"/>
<text x="966.2" y="806.2" font-size="25" text-anchor="start" >29.5 °C</text>
<text transform="translate(677.5,700.5) rotate(-45)" font-size="25.8" text-anchor="end">LVP</text>
<text transform="translate(722.2,700.4) rotate(-45)" font-size="25.8" text-anchor="end">ORL</text>
<text transform="translate(766.2,706.8) rotate(-45)" font-size="25.8" text-anchor="end"><tspan font-style="italic">GR19</tspan><tspan font-size="16.5" dy="-9">1</tspan></text>
<text transform="translate(806.6,708.3) rotate(-45)" font-size="25.8" text-anchor="end"><tspan font-style="italic">trpA1</tspan><tspan font-size="16.5" dy="-9">1</tspan></text>
<text transform="translate(842.4,707.4) rotate(-45)" font-size="25.8" text-anchor="end"><tspan font-style="italic">op1</tspan><tspan font-size="16.5" dy="-9">1</tspan></text>
<text transform="translate(877.0,708.2) rotate(-45)" font-size="25.8" text-anchor="end"><tspan font-style="italic">op2</tspan><tspan font-size="16.5" dy="-9">2</tspan></text>
<text transform="translate(921.9,709.4) rotate(-45)" font-size="25.8" text-anchor="end"><tspan font-style="italic">op1</tspan><tspan font-size="16.5" dy="-9">1</tspan><tspan dy="9">,</tspan><tspan font-style="italic">op2</tspan><tspan font-size="16.5" dy="-9">2</tspan></text>
<text transform="translate(971.0,708.9) rotate(-45)" font-size="25.8" text-anchor="end"><tspan font-style="italic">op1</tspan><tspan font-size="16.5" dy="-9">2</tspan><tspan dy="9">,</tspan><tspan font-style="italic">op2</tspan><tspan font-size="16.5" dy="-9">1</tspan></text>
<text x="8" y="867" font-size="33" font-weight="bold" stroke="#000" stroke-width="1.3" stroke-linejoin="round">g</text>
<rect x="137.2" y="1083.6" width="23.2" height="73.0" fill="#979797"/>
<rect x="165.8" y="940.3" width="23.0" height="216.3" fill="#979797"/>
<circle cx="148.7" cy="1061.7" r="5.6" fill="#d8ebd3" fill-opacity="1"/>
<circle cx="148.7" cy="1092.5" r="5.6" fill="#d8ebd3" fill-opacity="1"/>
<circle cx="148.7" cy="1096.0" r="5.6" fill="#d8ebd3" fill-opacity="0.9"/>
<circle cx="177.3" cy="908.4" r="5.6" fill="#a4d6ad" fill-opacity="1"/>
<circle cx="177.3" cy="944.5" r="5.6" fill="#a4d6ad" fill-opacity="1"/>
<circle cx="177.3" cy="969.3" r="5.6" fill="#a4d6ad" fill-opacity="1"/>
<line x1="148.7" y1="1072.4" x2="148.7" y2="1094.5" stroke="#000" stroke-width="2.3" />
<line x1="142.4" y1="1072.4" x2="155.0" y2="1072.4" stroke="#000" stroke-width="2.6" />
<line x1="142.4" y1="1094.5" x2="155.0" y2="1094.5" stroke="#000" stroke-width="2.6" />
<line x1="137.1" y1="1083.8" x2="160.3" y2="1083.8" stroke="#d6405f" stroke-width="3.3" />
<line x1="177.3" y1="923.1" x2="177.3" y2="958.2" stroke="#000" stroke-width="2.3" />
<line x1="171.0" y1="923.1" x2="183.6" y2="923.1" stroke="#000" stroke-width="2.6" />
<line x1="171.0" y1="958.2" x2="183.6" y2="958.2" stroke="#000" stroke-width="2.6" />
<line x1="165.7" y1="940.3" x2="188.9" y2="940.3" stroke="#d6405f" stroke-width="3.3" />
<line x1="114.4" y1="898.4" x2="114.4" y2="1157.8" stroke="#000" stroke-width="2.4" />
<line x1="113.2" y1="1156.6" x2="441.2" y2="1156.6" stroke="#000" stroke-width="2.4" />
<line x1="106.6" y1="899.8" x2="114.4" y2="899.8" stroke="#000" stroke-width="2.4" />
<text x="98.0" y="908.8" font-size="25" text-anchor="end" >4.5</text>
<line x1="106.6" y1="985.4" x2="114.4" y2="985.4" stroke="#000" stroke-width="2.4" />
<text x="98.0" y="994.4" font-size="25" text-anchor="end" >3.0</text>
<line x1="106.6" y1="1071.0" x2="114.4" y2="1071.0" stroke="#000" stroke-width="2.4" />
<text x="98.0" y="1080.0" font-size="25" text-anchor="end" >1.5</text>
<line x1="106.6" y1="1156.6" x2="114.4" y2="1156.6" stroke="#000" stroke-width="2.4" />
<text x="98.0" y="1165.6" font-size="25" text-anchor="end" >0</text>
<line x1="148.6" y1="1156.6" x2="148.6" y2="1164.5" stroke="#000" stroke-width="2.4" />
<line x1="177.3" y1="1156.6" x2="177.3" y2="1164.5" stroke="#000" stroke-width="2.4" />
<line x1="205.5" y1="1156.6" x2="205.5" y2="1164.5" stroke="#000" stroke-width="2.4" />
<line x1="234.5" y1="1156.6" x2="234.5" y2="1164.5" stroke="#000" stroke-width="2.4" />
<line x1="263.1" y1="1156.6" x2="263.1" y2="1164.5" stroke="#000" stroke-width="2.4" />
<line x1="291.8" y1="1156.6" x2="291.8" y2="1164.5" stroke="#000" stroke-width="2.4" />
<line x1="320.0" y1="1156.6" x2="320.0" y2="1164.5" stroke="#000" stroke-width="2.4" />
<line x1="348.5" y1="1156.6" x2="348.5" y2="1164.5" stroke="#000" stroke-width="2.4" />
<line x1="377.6" y1="1156.6" x2="377.6" y2="1164.5" stroke="#000" stroke-width="2.4" />
<line x1="405.8" y1="1156.6" x2="405.8" y2="1164.5" stroke="#000" stroke-width="2.4" />
<circle cx="205.5" cy="1156.2" r="5.4" fill="#6cc5bd" fill-opacity="1"/>
<circle cx="234.5" cy="1154.9" r="5.4" fill="#a8d8ea" fill-opacity="1"/>
<circle cx="263.1" cy="1154.9" r="5.4" fill="#2c8dc5" fill-opacity="1"/>
<circle cx="291.8" cy="1155.6" r="5.4" fill="#0b6aae" fill-opacity="1"/>
<circle cx="320.0" cy="1152.8" r="5.4" fill="#1f3d85" fill-opacity="1"/>
<circle cx="348.5" cy="1156.6" r="5.4" fill="#dcefd8" fill-opacity="1"/>
<circle cx="377.6" cy="1156.6" r="5.4" fill="#a8d9b0" fill-opacity="1"/>
<circle cx="405.8" cy="1156.6" r="5.4" fill="#6ec6c0" fill-opacity="1"/>
<line x1="194.0" y1="1156.8" x2="217.0" y2="1156.8" stroke="#d6405f" stroke-width="3.3" />
<line x1="223.0" y1="1155.3" x2="246.0" y2="1155.3" stroke="#d6405f" stroke-width="3.3" />
<line x1="251.6" y1="1155.3" x2="274.6" y2="1155.3" stroke="#d6405f" stroke-width="3.3" />
<line x1="280.3" y1="1155.8" x2="303.3" y2="1155.8" stroke="#d6405f" stroke-width="3.3" />
<line x1="308.5" y1="1153.4" x2="331.5" y2="1153.4" stroke="#d6405f" stroke-width="3.3" />
<line x1="337.0" y1="1156.6" x2="360.0" y2="1156.6" stroke="#d6405f" stroke-width="3.3" />
<line x1="366.1" y1="1156.6" x2="389.1" y2="1156.6" stroke="#d6405f" stroke-width="3.3" />
<line x1="394.3" y1="1156.6" x2="417.3" y2="1156.6" stroke="#d6405f" stroke-width="3.3" />
<text transform="translate(157.6,1178.0) rotate(-45)" font-size="25.5" font-style="italic" text-anchor="end">op1</text>
<text transform="translate(188.6,1178.0) rotate(-45)" font-size="25.5" font-style="italic" text-anchor="end">op2</text>
<text transform="translate(216.0,1178.0) rotate(-45)" font-size="25.5" font-style="italic" text-anchor="end">op3</text>
<text transform="translate(244.2,1178.0) rotate(-45)" font-size="25.5" font-style="italic" text-anchor="end">op4</text>
<text transform="translate(272.1,1178.0) rotate(-45)" font-size="25.5" font-style="italic" text-anchor="end">op5</text>
<text transform="translate(299.0,1178.0) rotate(-45)" font-size="25.5" font-style="italic" text-anchor="end">op7</text>
<text transform="translate(327.2,1178.0) rotate(-45)" font-size="25.5" font-style="italic" text-anchor="end">op8</text>
<text transform="translate(356.5,1178.0) rotate(-45)" font-size="25.5" font-style="italic" text-anchor="end">op9</text>
<text transform="translate(393.6,1178.0) rotate(-45)" font-size="25.5" font-style="italic" text-anchor="end">op10</text>
<text transform="translate(421.1,1178.0) rotate(-45)" font-size="25.5" font-style="italic" text-anchor="end">op12</text>
<text transform="translate(18.5,1033.8) rotate(-90)" font-size="25" text-anchor="middle" xml:space="preserve" textLength="177" lengthAdjust="spacing">Fold  change in</text>
<text transform="translate(48.4,1034.5) rotate(-90)" font-size="25" text-anchor="middle">expression (×10<tspan font-size="16" dy="-9">3</tspan><tspan dy="9">)</tspan></text>
<text x="442" y="867" font-size="33" font-weight="bold" stroke="#000" stroke-width="1.3" stroke-linejoin="round">h</text>
<line x1="559.0" y1="881.8" x2="559.0" y2="1178.4" stroke="#000" stroke-width="2.4" />
<line x1="559.0" y1="1191.6" x2="559.0" y2="1205.8" stroke="#000" stroke-width="2.4" />
<line x1="555.6" y1="1176.6" x2="562.0" y2="1182.3" stroke="#000" stroke-width="2.2" />
<line x1="555.6" y1="1188.7" x2="562.0" y2="1194.6" stroke="#000" stroke-width="2.2" />
<line x1="551.2" y1="882.9" x2="559.0" y2="882.9" stroke="#000" stroke-width="2.4" />
<text x="544.5" y="891.9" font-size="25" text-anchor="end" >1.0</text>
<line x1="551.2" y1="929.0" x2="559.0" y2="929.0" stroke="#000" stroke-width="2.4" />
<text x="544.5" y="938.0" font-size="25" text-anchor="end" >0.8</text>
<line x1="551.2" y1="975.1" x2="559.0" y2="975.1" stroke="#000" stroke-width="2.4" />
<text x="544.5" y="984.1" font-size="25" text-anchor="end" >0.6</text>
<line x1="551.2" y1="1021.2" x2="559.0" y2="1021.2" stroke="#000" stroke-width="2.4" />
<text x="544.5" y="1030.2" font-size="25" text-anchor="end" >0.4</text>
<line x1="551.2" y1="1067.3" x2="559.0" y2="1067.3" stroke="#000" stroke-width="2.4" />
<text x="544.5" y="1076.3" font-size="25" text-anchor="end" >0.2</text>
<line x1="551.2" y1="1113.4" x2="559.0" y2="1113.4" stroke="#000" stroke-width="2.4" />
<text x="544.5" y="1122.4" font-size="25" text-anchor="end" >0</text>
<line x1="551.2" y1="1159.5" x2="559.0" y2="1159.5" stroke="#000" stroke-width="2.4" />
<text x="544.5" y="1168.5" font-size="25" text-anchor="end" >–0.2</text>
<line x1="551.2" y1="1204.7" x2="559.0" y2="1204.7" stroke="#000" stroke-width="2.4" />
<text x="544.5" y="1213.7" font-size="25" text-anchor="end" >–1.0</text>
<text transform="translate(478,1031) rotate(-90)" font-size="25" text-anchor="middle">PI</text>
<line x1="559.0" y1="1113.4" x2="1016.2" y2="1113.4" stroke="#000" stroke-width="2.6" />
<defs><linearGradient id="tg" x1="0" x2="1" y1="0" y2="0">
<stop offset="0" stop-color="#1c1044"/>
<stop offset="0.09" stop-color="#45206e"/>
<stop offset="0.19" stop-color="#6c2c8e"/>
<stop offset="0.28" stop-color="#962d8e"/>
<stop offset="0.40" stop-color="#c42a7f"/>
<stop offset="0.50" stop-color="#d7445f"/>
<stop offset="0.59" stop-color="#e45a46"/>
<stop offset="0.69" stop-color="#eb7a2f"/>
<stop offset="0.78" stop-color="#ee9f27"/>
<stop offset="0.88" stop-color="#eac523"/>
<stop offset="1" stop-color="#e5e49e"/>
</linearGradient></defs>
<rect x="582" y="888" width="438.5" height="6.6" fill="url(#tg)"/>
<text x="577.0" y="881.5" font-size="25" text-anchor="start" >28 °C</text>
<text x="740.0" y="881.5" font-size="25" text-anchor="middle" >31 °C</text>
<text x="871.7" y="881.5" font-size="25" text-anchor="middle" >34 °C</text>
<text x="972.0" y="881.5" font-size="25" text-anchor="start" >37 °C</text>
<rect x="582.1" y="1190.2" width="438.4" height="6.4" fill="#1d1046"/>
<text x="801.3" y="1219.6" font-size="25" text-anchor="middle" >29.5 °C</text>
<path d="M615,922.8 L622.4,930.2 L615,937.6 L607.6,930.2Z" fill="#7ecbbf"/>
<text x="629.3" y="935.5" font-size="25" text-anchor="start" >Control</text>
<circle cx="615.0" cy="960.2" r="5.6" fill="#1f3f86" fill-opacity="1"/>
<text x="627.8" y="967" font-size="25" font-style="italic">trpA1<tspan font-size="17" dy="-9">1</tspan></text>
<rect x="609.5" y="984.3" width="11.0" height="11.0" fill="#2c8cc4"/>
<text x="627.8" y="996" font-size="25" font-style="italic">op1<tspan font-size="17" dy="-9">2</tspan><tspan dy="9" font-style="normal">,</tspan>op2<tspan font-size="17" dy="-9">1</tspan></text>
<line x1="602.6" y1="1101.9" x2="602.6" y2="1124.8" stroke="#7ecbbf" stroke-width="2.6" />
<line x1="596.1" y1="1101.9" x2="609.1" y2="1101.9" stroke="#7ecbbf" stroke-width="2.6" />
<line x1="596.1" y1="1124.8" x2="609.1" y2="1124.8" stroke="#7ecbbf" stroke-width="2.6" />
<path d="M602.6,1107.1 L610.0,1114.5 L602.6,1121.9 L595.2,1114.5Z" fill="#7ecbbf"/>
<line x1="735.2" y1="1069.4" x2="735.2" y2="1096.2" stroke="#7ecbbf" stroke-width="2.6" />
<line x1="728.7" y1="1069.4" x2="741.7" y2="1069.4" stroke="#7ecbbf" stroke-width="2.6" />
<line x1="728.7" y1="1096.2" x2="741.7" y2="1096.2" stroke="#7ecbbf" stroke-width="2.6" />
<path d="M735.2,1075.0 L742.6,1082.4 L735.2,1089.8 L727.8,1082.4Z" fill="#7ecbbf"/>
<line x1="779.3" y1="1063.0" x2="779.3" y2="1090.5" stroke="#7ecbbf" stroke-width="2.6" />
<line x1="772.8" y1="1063.0" x2="785.8" y2="1063.0" stroke="#7ecbbf" stroke-width="2.6" />
<line x1="772.8" y1="1090.5" x2="785.8" y2="1090.5" stroke="#7ecbbf" stroke-width="2.6" />
<path d="M779.3,1069.3 L786.7,1076.7 L779.3,1084.1 L771.9,1076.7Z" fill="#7ecbbf"/>
<line x1="823.7" y1="1000.1" x2="823.7" y2="1024.2" stroke="#7ecbbf" stroke-width="2.6" />
<line x1="817.2" y1="1000.1" x2="830.2" y2="1000.1" stroke="#7ecbbf" stroke-width="2.6" />
<line x1="817.2" y1="1024.2" x2="830.2" y2="1024.2" stroke="#7ecbbf" stroke-width="2.6" />
<path d="M823.7,1004.6 L831.1,1012.0 L823.7,1019.4 L816.3,1012.0Z" fill="#7ecbbf"/>
<line x1="867.8" y1="980.1" x2="867.8" y2="993.7" stroke="#7ecbbf" stroke-width="2.6" />
<line x1="861.3" y1="980.1" x2="874.3" y2="980.1" stroke="#7ecbbf" stroke-width="2.6" />
<line x1="861.3" y1="993.7" x2="874.3" y2="993.7" stroke="#7ecbbf" stroke-width="2.6" />
<path d="M867.8,979.4 L875.2,986.8 L867.8,994.2 L860.4,986.8Z" fill="#7ecbbf"/>
<line x1="911.9" y1="982.5" x2="911.9" y2="1004.4" stroke="#7ecbbf" stroke-width="2.6" />
<line x1="905.4" y1="982.5" x2="918.4" y2="982.5" stroke="#7ecbbf" stroke-width="2.6" />
<line x1="905.4" y1="1004.4" x2="918.4" y2="1004.4" stroke="#7ecbbf" stroke-width="2.6" />
<path d="M911.9,986.3 L919.3,993.7 L911.9,1001.1 L904.5,993.7Z" fill="#7ecbbf"/>
<line x1="956.0" y1="985.8" x2="956.0" y2="1004.4" stroke="#7ecbbf" stroke-width="2.6" />
<line x1="949.5" y1="985.8" x2="962.5" y2="985.8" stroke="#7ecbbf" stroke-width="2.6" />
<line x1="949.5" y1="1004.4" x2="962.5" y2="1004.4" stroke="#7ecbbf" stroke-width="2.6" />
<path d="M956.0,987.9 L963.4,995.3 L956.0,1002.7 L948.6,995.3Z" fill="#7ecbbf"/>
<line x1="1000.0" y1="992.0" x2="1000.0" y2="1015.9" stroke="#7ecbbf" stroke-width="2.6" />
<line x1="993.5" y1="992.0" x2="1006.5" y2="992.0" stroke="#7ecbbf" stroke-width="2.6" />
<line x1="993.5" y1="1015.9" x2="1006.5" y2="1015.9" stroke="#7ecbbf" stroke-width="2.6" />
<path d="M1000.0,995.8 L1007.4,1003.2 L1000.0,1010.6 L992.6,1003.2Z" fill="#7ecbbf"/>
<line x1="602.6" y1="1105.8" x2="602.6" y2="1131.7" stroke="#2c8cc4" stroke-width="2.6" />
<line x1="596.1" y1="1105.8" x2="609.1" y2="1105.8" stroke="#2c8cc4" stroke-width="2.6" />
<line x1="596.1" y1="1131.7" x2="609.1" y2="1131.7" stroke="#2c8cc4" stroke-width="2.6" />
<rect x="597.0" y="1113.4" width="11.2" height="11.2" fill="#2c8cc4"/>
<line x1="735.2" y1="1087.0" x2="735.2" y2="1108.3" stroke="#2c8cc4" stroke-width="2.6" />
<line x1="728.7" y1="1087.0" x2="741.7" y2="1087.0" stroke="#2c8cc4" stroke-width="2.6" />
<line x1="728.7" y1="1108.3" x2="741.7" y2="1108.3" stroke="#2c8cc4" stroke-width="2.6" />
<rect x="729.6" y="1097.9" width="11.2" height="11.2" fill="#2c8cc4"/>
<line x1="779.3" y1="1078.5" x2="779.3" y2="1104.2" stroke="#2c8cc4" stroke-width="2.6" />
<line x1="772.8" y1="1078.5" x2="785.8" y2="1078.5" stroke="#2c8cc4" stroke-width="2.6" />
<line x1="772.8" y1="1104.2" x2="785.8" y2="1104.2" stroke="#2c8cc4" stroke-width="2.6" />
<rect x="773.7" y="1084.9" width="11.2" height="11.2" fill="#2c8cc4"/>
<line x1="823.7" y1="1067.1" x2="823.7" y2="1090.3" stroke="#2c8cc4" stroke-width="2.6" />
<line x1="817.2" y1="1067.1" x2="830.2" y2="1067.1" stroke="#2c8cc4" stroke-width="2.6" />
<line x1="817.2" y1="1090.3" x2="830.2" y2="1090.3" stroke="#2c8cc4" stroke-width="2.6" />
<rect x="818.1" y="1073.5" width="11.2" height="11.2" fill="#2c8cc4"/>
<line x1="867.8" y1="1064.0" x2="867.8" y2="1094.6" stroke="#2c8cc4" stroke-width="2.6" />
<line x1="861.3" y1="1064.0" x2="874.3" y2="1064.0" stroke="#2c8cc4" stroke-width="2.6" />
<line x1="861.3" y1="1094.6" x2="874.3" y2="1094.6" stroke="#2c8cc4" stroke-width="2.6" />
<rect x="862.2" y="1072.8" width="11.2" height="11.2" fill="#2c8cc4"/>
<line x1="911.9" y1="1003.9" x2="911.9" y2="1021.1" stroke="#2c8cc4" stroke-width="2.6" />
<line x1="905.4" y1="1003.9" x2="918.4" y2="1003.9" stroke="#2c8cc4" stroke-width="2.6" />
<line x1="905.4" y1="1021.1" x2="918.4" y2="1021.1" stroke="#2c8cc4" stroke-width="2.6" />
<rect x="906.3" y="1006.4" width="11.2" height="11.2" fill="#2c8cc4"/>
<line x1="956.0" y1="998.0" x2="956.0" y2="1014.0" stroke="#2c8cc4" stroke-width="2.6" />
<line x1="949.5" y1="998.0" x2="962.5" y2="998.0" stroke="#2c8cc4" stroke-width="2.6" />
<line x1="949.5" y1="1014.0" x2="962.5" y2="1014.0" stroke="#2c8cc4" stroke-width="2.6" />
<rect x="950.4" y="999.3" width="11.2" height="11.2" fill="#2c8cc4"/>
<line x1="1000.0" y1="980.1" x2="1000.0" y2="998.4" stroke="#2c8cc4" stroke-width="2.6" />
<line x1="993.5" y1="980.1" x2="1006.5" y2="980.1" stroke="#2c8cc4" stroke-width="2.6" />
<line x1="993.5" y1="998.4" x2="1006.5" y2="998.4" stroke="#2c8cc4" stroke-width="2.6" />
<rect x="994.4" y="983.3" width="11.2" height="11.2" fill="#2c8cc4"/>
<line x1="602.6" y1="1112.0" x2="602.6" y2="1134.6" stroke="#1f3f86" stroke-width="2.6" />
<line x1="596.1" y1="1112.0" x2="609.1" y2="1112.0" stroke="#1f3f86" stroke-width="2.6" />
<line x1="596.1" y1="1134.6" x2="609.1" y2="1134.6" stroke="#1f3f86" stroke-width="2.6" />
<circle cx="602.6" cy="1124.8" r="5.7" fill="#1f3f86" fill-opacity="1"/>
<line x1="735.2" y1="1108.8" x2="735.2" y2="1132.4" stroke="#1f3f86" stroke-width="2.6" />
<line x1="728.7" y1="1108.8" x2="741.7" y2="1108.8" stroke="#1f3f86" stroke-width="2.6" />
<line x1="728.7" y1="1132.4" x2="741.7" y2="1132.4" stroke="#1f3f86" stroke-width="2.6" />
<circle cx="735.2" cy="1120.2" r="5.7" fill="#1f3f86" fill-opacity="1"/>
<line x1="779.3" y1="1101.9" x2="779.3" y2="1130.0" stroke="#1f3f86" stroke-width="2.6" />
<line x1="772.8" y1="1101.9" x2="785.8" y2="1101.9" stroke="#1f3f86" stroke-width="2.6" />
<line x1="772.8" y1="1130.0" x2="785.8" y2="1130.0" stroke="#1f3f86" stroke-width="2.6" />
<circle cx="779.3" cy="1116.3" r="5.7" fill="#1f3f86" fill-opacity="1"/>
<line x1="823.7" y1="1111.0" x2="823.7" y2="1148.3" stroke="#1f3f86" stroke-width="2.6" />
<line x1="817.2" y1="1111.0" x2="830.2" y2="1111.0" stroke="#1f3f86" stroke-width="2.6" />
<line x1="817.2" y1="1148.3" x2="830.2" y2="1148.3" stroke="#1f3f86" stroke-width="2.6" />
<circle cx="823.7" cy="1129.6" r="5.7" fill="#1f3f86" fill-opacity="1"/>
<line x1="867.8" y1="1094.6" x2="867.8" y2="1104.1" stroke="#1f3f86" stroke-width="2.6" />
<line x1="861.3" y1="1094.6" x2="874.3" y2="1094.6" stroke="#1f3f86" stroke-width="2.6" />
<line x1="861.3" y1="1104.1" x2="874.3" y2="1104.1" stroke="#1f3f86" stroke-width="2.6" />
<circle cx="867.8" cy="1099.4" r="5.7" fill="#1f3f86" fill-opacity="1"/>
<line x1="911.9" y1="1100.5" x2="911.9" y2="1117.0" stroke="#1f3f86" stroke-width="2.6" />
<line x1="905.4" y1="1100.5" x2="918.4" y2="1100.5" stroke="#1f3f86" stroke-width="2.6" />
<line x1="905.4" y1="1117.0" x2="918.4" y2="1117.0" stroke="#1f3f86" stroke-width="2.6" />
<circle cx="911.9" cy="1108.9" r="5.7" fill="#1f3f86" fill-opacity="1"/>
<line x1="956.0" y1="1098.2" x2="956.0" y2="1115.3" stroke="#1f3f86" stroke-width="2.6" />
<line x1="949.5" y1="1098.2" x2="962.5" y2="1098.2" stroke="#1f3f86" stroke-width="2.6" />
<line x1="949.5" y1="1115.3" x2="962.5" y2="1115.3" stroke="#1f3f86" stroke-width="2.6" />
<circle cx="956.0" cy="1106.5" r="5.7" fill="#1f3f86" fill-opacity="1"/>
<line x1="1000.0" y1="1095.5" x2="1000.0" y2="1122.5" stroke="#1f3f86" stroke-width="2.6" />
<line x1="993.5" y1="1095.5" x2="1006.5" y2="1095.5" stroke="#1f3f86" stroke-width="2.6" />
<line x1="993.5" y1="1122.5" x2="1006.5" y2="1122.5" stroke="#1f3f86" stroke-width="2.6" />
<circle cx="1000.0" cy="1108.9" r="5.7" fill="#1f3f86" fill-opacity="1"/>
<text x="823.7" y="1065.1" font-size="28" text-anchor="middle" >*</text>
<text x="867.8" y="1060.9" font-size="28" text-anchor="middle" textLength="33.5" lengthAdjust="spacing">***</text>
<text x="823.7" y="1175.2" font-size="28" text-anchor="middle" textLength="33.5" lengthAdjust="spacing">***</text>
<text x="867.8" y="1134.9" font-size="28" text-anchor="middle" textLength="33.5" lengthAdjust="spacing">***</text>
<text x="911.9" y="1143.2" font-size="28" text-anchor="middle" textLength="33.5" lengthAdjust="spacing">***</text>
<text x="956.0" y="1139.9" font-size="28" text-anchor="middle" textLength="33.5" lengthAdjust="spacing">***</text>
<text x="1000.0" y="1147.7" font-size="28" text-anchor="middle" textLength="33.5" lengthAdjust="spacing">***</text>
</svg></body></html>
